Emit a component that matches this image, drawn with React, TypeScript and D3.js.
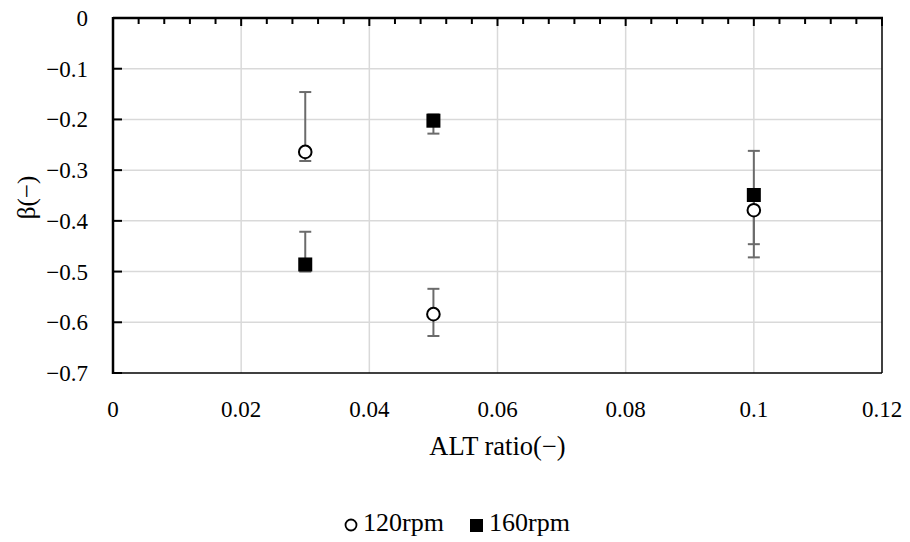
import React from "react";
import * as d3 from "d3";

const xTicks = [0, 0.02, 0.04, 0.06, 0.08, 0.1, 0.12];
const xTickLabels = ["0", "0.02", "0.04", "0.06", "0.08", "0.1", "0.12"];
const yTicks = [0, -0.1, -0.2, -0.3, -0.4, -0.5, -0.6, -0.7];
const yTickLabels = ["0", "−0.1", "−0.2", "−0.3", "−0.4", "−0.5", "−0.6", "−0.7"];

const altRatio = [0.03, 0.05, 0.1];
const beta120 = [-0.264, -0.584, -0.379];
const hi120 = [-0.146, -0.534, -0.36];
const lo120 = [-0.282, -0.627, -0.472];
const beta160 = [-0.486, -0.2025, -0.349];
const hi160 = [-0.4215, -0.19, -0.262];
const lo160 = [-0.5, -0.228, -0.446];

const W = 910;
const H = 542;
const M = { left: 113, right: 882, top: 18, bottom: 373 };
const FONT = "'Palatino Linotype', 'Book Antiqua', Palatino, 'Liberation Serif', serif";

export default function App() {
  const x = d3.scaleLinear().domain([0, 0.12]).range([M.left, M.right]);
  const y = d3.scaleLinear().domain([0, -0.7]).range([M.top, M.bottom]);
  const minorTicks = d3.range(0, 31).map((i) => i * 0.004);
  const errColor = "#6b6b6b";
  const capW = 6;

  const errBar = (xi: number, hi: number, lo: number, key: string) => (
    <g key={key} stroke={errColor} strokeWidth={2}>
      <line x1={x(xi)} x2={x(xi)} y1={y(hi)} y2={y(lo)} />
      <line x1={x(xi) - capW} x2={x(xi) + capW} y1={y(hi)} y2={y(hi)} />
      <line x1={x(xi) - capW} x2={x(xi) + capW} y1={y(lo)} y2={y(lo)} />
    </g>
  );

  return (
    <svg width={W} height={H} style={{ position: "absolute", left: 0, top: 0 }} fontFamily={FONT}>
      <rect width={W} height={H} fill="#fff" />
      {/* gridlines */}
      {xTicks.slice(1, -1).map((t) => (
        <line key={"gx" + t} x1={x(t)} x2={x(t)} y1={M.top} y2={M.bottom} stroke="#d9d9d9" strokeWidth={1.5} />
      ))}
      {yTicks.slice(1, -1).map((t) => (
        <line key={"gy" + t} x1={M.left} x2={M.right} y1={y(t)} y2={y(t)} stroke="#d9d9d9" strokeWidth={1.5} />
      ))}
      {/* border */}
      <line x1={M.left} x2={M.right} y1={M.bottom} y2={M.bottom} stroke="#000" strokeWidth={1.5} />
      <line x1={M.right} x2={M.right} y1={M.top} y2={M.bottom} stroke="#000" strokeWidth={1.5} />
      <line x1={M.left} x2={M.right + 1} y1={M.top} y2={M.top} stroke="#000" strokeWidth={2.5} />
      <line x1={M.left} x2={M.left} y1={M.top - 1} y2={M.bottom + 1} stroke="#000" strokeWidth={2.5} />
      {/* top ticks */}
      {minorTicks.map((t, i) => (
        <line key={"mt" + i} x1={x(t)} x2={x(t)} y1={M.top} y2={M.top + (i % 5 === 0 ? 8 : 6)} stroke="#000" strokeWidth={2} />
      ))}
      {/* y ticks */}
      {yTicks.map((t) => (
        <line key={"yt" + t} x1={M.left} x2={M.left + 9} y1={y(t)} y2={y(t)} stroke="#000" strokeWidth={2} />
      ))}
      {/* tick labels */}
      {yTicks.map((t, i) => (
        <text key={"yl" + t} x={88} y={y(t)} dy="0.35em" textAnchor="end" fontSize={23} fill="#000">
          {yTickLabels[i]}
        </text>
      ))}
      {xTicks.map((t, i) => (
        <text key={"xl" + t} x={x(t)} y={417} textAnchor="middle" fontSize={23} fill="#000">
          {xTickLabels[i]}
        </text>
      ))}
      {/* axis titles */}
      <text x={(M.left + M.right) / 2} y={455} textAnchor="middle" fontSize={26.5} fill="#000">
        ALT ratio(−)
      </text>
      <text transform={`translate(35, ${(M.top + M.bottom) / 2 + 2}) rotate(-90)`} textAnchor="middle" fontSize={25} fill="#000">
        β(−)
      </text>
      {/* error bars */}
      {altRatio.map((a, i) => errBar(a, hi120[i], lo120[i], "e120" + i))}
      {altRatio.map((a, i) => errBar(a, hi160[i], lo160[i], "e160" + i))}
      {/* markers */}
      {altRatio.map((a, i) => (
        <rect key={"s" + i} x={x(a) - 7} y={y(beta160[i]) - 7} width={14} height={14} fill="#000" />
      ))}
      {altRatio.map((a, i) => (
        <circle key={"c" + i} cx={x(a)} cy={y(beta120[i])} r={6.3} fill="#fff" stroke="#000" strokeWidth={2} />
      ))}
      {/* legend */}
      <circle cx={351} cy={525} r={5.5} fill="#fff" stroke="#000" strokeWidth={1.8} />
      <text x={363} y={531} fontSize={26} fill="#000">120rpm</text>
      <rect x={470} y={519} width={13} height={13} fill="#000" />
      <text x={489} y={531} fontSize={26} fill="#000">160rpm</text>
    </svg>
  );
}
